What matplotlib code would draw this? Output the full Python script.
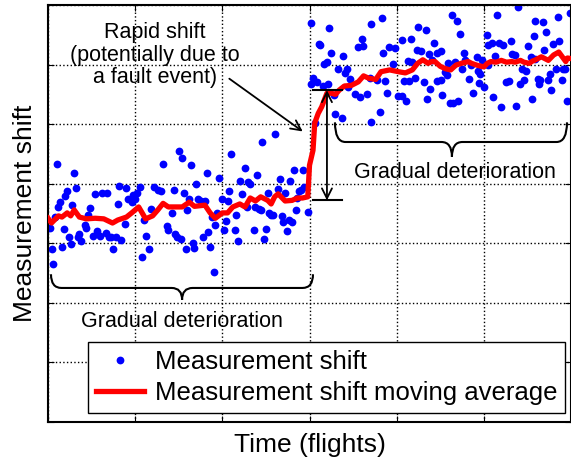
import matplotlib.pyplot as plt
from matplotlib.path import Path
from matplotlib.patches import PathPatch

plt.rcParams['font.family'] = ['Liberation Sans', 'DejaVu Sans']

flights_early = [0, 1, 2, 3, 4, 5, 6, 7, 8, 9, 10, 11, 12, 13, 14, 15, 16, 17, 18, 19,
                 21, 22, 23, 24, 26, 27, 28, 30, 31, 33, 34, 35, 36, 37, 39, 40, 41, 42, 44, 45,
                 46, 48, 49, 50, 51, 53, 54, 55, 56, 58, 59, 61, 63, 65, 66, 68, 69, 71, 72, 73,
                 74, 75, 76, 77, 78, 79, 80, 81, 82, 83, 84, 85, 86, 88, 89, 90, 91, 92, 93, 94,
                 95, 96, 97, 98, 100, 101, 102, 103, 104, 105, 107, 108, 109, 110, 111, 113, 114, 115, 116, 118,
                 119, 120, 121, 122, 123, 124, 125, 126, 127, 128, 129, 130, 132, 133, 134, 135, 136, 137, 138, 139,
                 140, 141, 142, 143, 144, 145, 146, 147, 149]
shift_early = [3.26, 3.25, 2.90, 2.65, 3.44, 4.33, 3.61, 3.70, 2.94, 3.24, 3.79, 3.88, 3.10, 2.98, 3.64, 4.18, 3.93, 3.11, 3.15, 3.04,
               3.31, 3.26, 3.48, 3.59, 3.12, 3.82, 3.20, 3.12, 3.84, 3.17, 3.84, 3.10, 3.11, 2.90, 3.10, 3.66, 3.96, 3.05, 3.32, 3.92,
               3.74, 3.70, 3.81, 3.74, 3.84, 3.94, 2.77, 3.39, 3.12, 2.90, 3.57, 3.94, 3.90, 3.88, 4.33, 3.29, 3.23, 3.51, 3.89, 3.15,
               3.10, 4.55, 3.08, 4.43, 3.84, 2.90, 3.56, 3.75, 4.31, 3.00, 2.92, 4.00, 3.75, 3.71, 3.10, 3.71, 4.18, 3.19, 2.94, 3.44,
               2.51, 3.31, 3.51, 4.10, 3.74, 3.22, 3.38, 3.71, 3.88, 4.50, 3.22, 3.47, 3.03, 4.05, 3.83, 4.27, 3.61, 4.03, 3.99, 3.22,
               3.61, 4.14, 3.57, 3.56, 4.70, 3.08, 3.24, 3.85, 3.50, 3.47, 3.47, 4.83, 3.91, 4.08, 3.46, 3.36, 3.84, 3.21, 3.39, 4.04,
               3.36, 4.23, 3.56, 3.76, 3.88, 3.90, 4.23, 3.95, 3.52]

flights_late = [150.7, 150.9, 151.8, 153.2, 154.1, 155.4, 156.0, 157.9, 158.5, 159.9, 160.4, 161.2, 162.3, 164.0, 164.5, 166.5,
                168.5, 169.4, 170.4, 171.3, 171.9, 173.2, 176.1, 178.0, 179.0, 180.3, 180.9, 182.8, 184.7, 185.0, 185.3, 188.5,
                190.3, 191.4, 192.3, 193.3, 194.3, 195.6, 198.1, 199.0, 200.6, 202.9, 203.2, 204.4, 205.3, 206.3, 207.1, 208.2,
                209.0, 210.5, 211.5, 212.4, 214.0, 215.8, 216.6, 217.2, 218.5, 219.3, 220.4, 221.4, 223.0, 223.3, 225.3, 225.4,
                226.0, 227.7, 228.9, 229.6, 230.6, 231.6, 232.5, 233.5, 234.4, 235.3, 236.3, 237.3, 238.6, 239.2, 241.5, 242.6,
                243.9, 245.9, 246.8, 247.3, 247.8, 248.8, 250.3, 251.6, 252.2, 252.6, 254.5, 255.4, 256.4, 257.4, 258.9, 259.7,
                261.2, 262.7, 264.4, 265.6, 266.0, 267.9, 268.3, 269.8, 270.7, 272.1, 273.2, 274.0, 275.5, 277.0, 277.5, 278.8,
                279.3, 279.6, 280.9, 281.6, 282.4, 283.8, 284.3, 285.7, 286.6, 287.9, 288.5, 289.8, 291.2, 292.7, 293.3, 294.7,
                295.2, 296.5, 297.5, 299.4]
shift_late = [6.70, 5.68, 5.77, 5.02, 5.70, 6.35, 6.33, 5.64, 6.01, 6.05, 5.68, 6.62, 6.19, 5.49, 5.17, 5.93,
              5.11, 6.14, 5.86, 5.92, 5.62, 5.76, 5.50, 6.29, 5.45, 6.43, 6.31, 5.51, 5.77, 5.04, 6.68, 5.74,
              5.21, 6.78, 6.20, 5.72, 5.52, 6.29, 6.01, 6.27, 5.47, 5.47, 6.41, 5.72, 5.39, 6.06, 5.72, 6.43,
              6.05, 5.78, 6.25, 6.63, 6.23, 5.70, 6.58, 5.43, 6.17, 5.59, 6.08, 6.37, 6.20, 5.72, 5.74, 6.22,
              5.49, 5.88, 5.82, 6.02, 5.35, 6.84, 5.35, 6.05, 6.73, 5.39, 6.51, 5.92, 6.19, 6.07, 5.76, 5.99,
              5.52, 6.12, 5.89, 5.69, 5.84, 6.07, 5.62, 6.49, 6.33, 5.99, 6.37, 5.45, 6.14, 6.84, 6.36, 5.29,
              6.33, 5.71, 5.73, 6.39, 6.17, 6.16, 5.31, 6.97, 5.68, 5.93, 5.74, 5.89, 6.31, 6.12, 5.43, 6.48,
              6.73, 6.10, 5.76, 5.68, 5.74, 6.72, 6.24, 6.55, 5.74, 5.84, 5.57, 6.34, 5.93, 6.80, 6.39, 5.74,
              5.93, 5.92, 5.39, 6.86]

# moving average curve
avg_flights = [0, 2, 6, 8, 11, 13, 15, 18, 22, 27, 32, 37, 40, 45, 48, 52, 56, 60, 63, 66,
               69, 73, 77, 81, 84, 90, 93, 96, 100, 103, 106, 110, 113, 116, 119, 122, 126, 128, 130, 132,
               136, 140, 143, 146, 149, 150, 152, 153, 155, 157, 160, 162, 165, 167, 170, 174, 178, 181, 184, 188,
               191, 196, 201, 205, 209, 212, 215, 218, 220, 222, 225, 228, 231, 234, 237, 241, 243, 246, 250, 252,
               254, 257, 260, 263, 266, 268, 271, 273, 276, 278, 279, 283, 287, 290, 293, 294, 297, 298, 300]
avg_shift = [3.42, 3.34, 3.46, 3.44, 3.51, 3.46, 3.56, 3.44, 3.41, 3.42, 3.41, 3.34, 3.39, 3.44, 3.51, 3.61, 3.41, 3.46, 3.56, 3.67,
             3.61, 3.61, 3.61, 3.69, 3.62, 3.64, 3.51, 3.42, 3.51, 3.51, 3.61, 3.66, 3.61, 3.76, 3.71, 3.78, 3.72, 3.66, 3.78, 3.83,
             3.71, 3.72, 3.76, 3.76, 3.78, 4.31, 4.56, 5.02, 5.18, 5.29, 5.52, 5.52, 5.50, 5.57, 5.64, 5.65, 5.71, 5.81, 5.77, 5.75,
             5.88, 5.91, 5.88, 5.86, 5.91, 6.02, 6.08, 6.02, 6.05, 6.05, 5.97, 5.93, 5.91, 5.99, 6.02, 6.05, 6.02, 5.99, 5.96, 6.02,
             6.05, 6.04, 6.07, 6.04, 6.05, 6.04, 6.07, 6.04, 6.02, 6.06, 6.07, 6.13, 6.07, 6.16, 6.21, 6.17, 6.05, 6.11, 6.10]


def draw_brace(ax, x0, x1, y_top, y_mid, y_tip, xm, rx):
    verts = [(x0, y_top), (x0, y_mid), (x0 + rx, y_mid),
             (xm - rx, y_mid), (xm, y_mid), (xm, y_tip),
             (xm, y_mid), (xm + rx, y_mid),
             (x1 - rx, y_mid), (x1, y_mid), (x1, y_top)]
    codes = [Path.MOVETO, Path.CURVE3, Path.CURVE3,
             Path.LINETO, Path.CURVE3, Path.CURVE3,
             Path.CURVE3, Path.CURVE3,
             Path.LINETO, Path.CURVE3, Path.CURVE3]
    ax.add_patch(PathPatch(Path(verts, codes), fill=False, lw=1.5, color='black', zorder=4))


fig = plt.figure(figsize=(5.71, 4.61), dpi=100)
ax = fig.add_axes([0.0841, 0.0846, 0.9159, 0.9046])

ax.plot(flights_early + flights_late, shift_early + shift_late, 'o', color='#0000ff',
        markersize=5.6, markeredgewidth=0, label='Measurement shift', zorder=2)
ax.plot(avg_flights, avg_shift, color='#ff0000', lw=3.8,
        label='Measurement shift moving average', zorder=3)

ax.set_xlim(0, 300)
ax.set_ylim(0, 7)
ax.set_xticks(range(0, 301, 50))
ax.set_yticks(range(0, 8))
ax.tick_params(direction='in', length=4, top=True, right=True,
               labelbottom=False, labelleft=False)
ax.grid(True, linestyle=':', color='black', lw=1)
for s in ax.spines.values():
    s.set_linewidth(1.5)

ax.set_xlabel('Time (flights)', fontsize=19, labelpad=8)
ax.set_ylabel('Measurement shift', fontsize=19, labelpad=8)

# annotations
ax.text(61.4, 6.16, 'Rapid shift\n(potentially due to\na fault event)', ha='center', va='center',
        fontsize=15.5, linespacing=1.1, zorder=5)
ax.annotate('', xy=(147.4, 4.85), xytext=(102.7, 5.79),
            arrowprops=dict(arrowstyle='->', lw=1.3, color='black', mutation_scale=18))
ax.plot([152.0, 168.6], [5.57, 5.57], color='black', lw=1.5, zorder=4)
ax.plot([152.0, 168.6], [3.72, 3.72], color='black', lw=1.5, zorder=4)
ax.annotate('', xy=(160.0, 3.72), xytext=(160.0, 5.57),
            arrowprops=dict(arrowstyle='<->', lw=1.3, color='black', mutation_scale=18,
                            shrinkA=0, shrinkB=0))

draw_brace(ax, 1.7, 152.0, 2.48, 2.25, 2.05, 76.9, 6)
draw_brace(ax, 164.6, 297.7, 5.03, 4.70, 4.45, 231.7, 6)
ax.text(76.9, 1.68, 'Gradual deterioration', ha='center', va='center', fontsize=15.5)
ax.text(233.2, 4.18, 'Gradual deterioration', ha='center', va='center', fontsize=15.5)

leg = ax.legend(loc='lower right', bbox_to_anchor=(0.9885, 0.0216), borderaxespad=0,
                fontsize=18.5, numpoints=1, handlelength=1.9, fancybox=False,
                framealpha=1, edgecolor='black', borderpad=0.3, labelspacing=0.3,
                handletextpad=0.4)
leg.get_frame().set_linewidth(1.0)

fig.savefig('out.png', dpi=100)
